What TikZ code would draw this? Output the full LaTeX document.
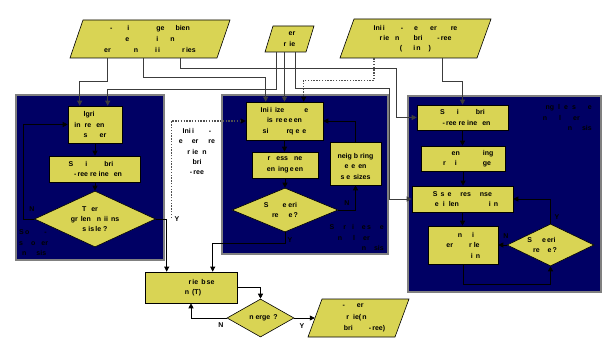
\documentclass[tikz,border=0pt]{standalone}
\usepackage{fontspec}
\setmainfont{Liberation Sans}
\usetikzlibrary{shapes.geometric,arrows.meta,calc}
\definecolor{navy}{RGB}{0,0,100}
\definecolor{ylw}{RGB}{217,212,84}
\definecolor{pgray}{RGB}{128,128,128}
\definecolor{cgray}{RGB}{60,60,60}
\definecolor{dgray}{RGB}{80,80,80}
\newcommand{\gapx}[1]{\hbox to #1pt{}}
\begin{document}
\begin{tikzpicture}[x=1pt,y=-1pt,
  every node/.style={font=\fontsize{7}{10.5}\selectfont\bfseries, inner sep=0pt},
  panel/.style={draw=pgray, line width=1.2pt, fill=navy},
  box/.style={draw=black, line width=0.6pt, fill=ylw, align=center},
  dia/.style={diamond, draw=black, line width=0.6pt, fill=ylw, align=center},
  para/.style={draw=black, line width=0.6pt, fill=ylw},
  conn/.style={draw=black, line width=0.7pt, -{Triangle[length=5pt,width=5pt]}},
  tconn/.style={draw=cgray, line width=0.9pt, -{Triangle[length=5pt,width=5pt]}},
  dconn/.style={draw=dgray, line width=1.1pt, dash pattern=on 1.4pt off 1.4pt, -{Triangle[length=5pt,width=5pt,color=black]}},
]
\useasboundingbox (0,0) rectangle (605,339);
% panels
\draw[panel] (16,95) rectangle (164,260);
\draw[panel] (222,95) rectangle (388,254);
\draw[panel] (408,96) rectangle (601,292);
% parallelograms
\draw[para] (83,20) -- (230,20) -- (217,58) -- (70,58) -- cycle;
\draw[para] (273,26) -- (314,26) -- (306,52) -- (265,52) -- cycle;
\draw[para] (354,19) -- (491,19) -- (477,58) -- (340,58) -- cycle;
\draw[para] (322,299) -- (409,299) -- (395,337) -- (308,337) -- cycle;
\node[align=center, minimum width=140pt, minimum height=38pt, font=\fontsize{7}{11}\selectfont\bfseries] (p1) at (150,39)
  {-\gapx{15}i\gapx{27}ge\gapx{11}bien\\e\gapx{27}i\gapx{12}n\\er\gapx{23}n\gapx{17}i\,i\gapx{22}r\,ies};
\node[align=right, minimum height=26pt, font=\fontsize{7}{11}\selectfont\bfseries] (p2) at (289.5,39) {er\\r\gapx{3}ie};
\node[align=center, minimum width=120pt, minimum height=39pt, font=\fontsize{7}{10}\selectfont\bfseries] (p3) at (415.5,38.5)
  {Ini\,i\gapx{16}-\gapx{11}e\gapx{12}er\gapx{14}re\\r\,ie\gapx{6}n\gapx{14}bri\gapx{15}-\,ree\\(\gapx{11}i\,n\gapx{8})};
\node[align=center, minimum width=87pt, minimum height=38pt, font=\fontsize{7}{11.5}\selectfont\bfseries] (p4) at (358.5,318)
  {-\gapx{12}er\gapx{11}\\r\gapx{4}ie(\,n\gapx{4}\\\gapx{12}bri\gapx{16}-\,ree)};
% panel A
\node[box, minimum width=54pt, minimum height=37pt] (a1) at (95,124.5)
  {lgri\gapx{12}\\in\gapx{4}re\gapx{5}en\gapx{11}\\s\gapx{12}er};
\node[box, minimum width=91pt, minimum height=26pt] (a2) at (94.5,169)
  {S\gapx{12}i\gapx{17}bri\gapx{7}\\\gapx{7}-\,ree\gapx{2}re\gapx{2}ine\gapx{5}en};
\node[dia, shape aspect=2.16, minimum width=121pt, minimum height=56pt, font=\fontsize{7}{10}\selectfont\bfseries] (ad) at (95,219)
  {T\gapx{5}er\gapx{10}\\gr\gapx{3}len\gapx{6}n\gapx{3}ii\gapx{3}ns\\s\gapx{2}is\,le\gapx{2}?};
\node[align=left, anchor=west] (capa) at (19,243) {S\,o\gapx{15}-\\s\gapx{8}o\gapx{6}er\\\gapx{3}n\gapx{10}sis};
\node (nA) at (32,209) {N};
% panel B
\node[box, minimum width=77pt, minimum height=38pt] (b1) at (284.5,121)
  {Ini\,i\gapx{3}ize\gapx{20}e\\is\gapx{3}re\,e\,e\,en\\si\gapx{18}rq\gapx{2}e\gapx{3}e};
\node[box, minimum width=66pt, minimum height=26pt] (b2) at (285,165)
  {r\gapx{6}ess\gapx{6}ne\\en\gapx{3}ing\,e\,en};
\node[box, minimum width=51pt, minimum height=43pt] (b3) at (355.5,163.5)
  {\mbox{}\\neig\gapx{2}b\gapx{2}ring\\e\gapx{3}e\gapx{3}en\\s\gapx{2}e\gapx{3}sizes};
\node[dia, shape aspect=2.4, minimum width=106pt, minimum height=44pt] (bd) at (285,210)
  {S\gapx{14}e\gapx{2}eri\gapx{9}\\re\gapx{10}e\,?};
\node[align=right, anchor=east] (capb) at (384,237.5) {S\gapx{9}r\gapx{6}i\gapx{8}e\,s\gapx{9}e\\n\gapx{11}l\gapx{8}er\gapx{14}\\n\gapx{8}sis};
\node (nB) at (347,203) {N};
\node (yB) at (290,240) {Y};
% panel C
\node[box, minimum width=91pt, minimum height=25pt] (c1) at (462.5,117.5)
  {S\gapx{12}i\gapx{17}bri\\\gapx{8}-\,ree\gapx{2}re\gapx{2}ine\gapx{5}en};
\node[box, minimum width=84pt, minimum height=25pt] (c2) at (463,158.5)
  {\gapx{19}en\gapx{23}ing\\\gapx{8}r\gapx{9}i\gapx{26}ge};
\node[box, minimum width=101pt, minimum height=26pt] (c3) at (462.5,199)
  {S\gapx{3}s\gapx{3}e\gapx{9}res\gapx{9}nse\\\gapx{8}e\gapx{4}i\gapx{4}len\gapx{30}i\gapx{3}n};
\node[box, minimum width=70pt, minimum height=38pt] (c4) at (463,245)
  {\gapx{6}n\gapx{10}i\\er\gapx{16}r\gapx{2}le\\\gapx{25}i\gapx{3}n};
\node[dia, shape aspect=2.07, minimum width=87pt, minimum height=42pt] (cd) at (550.5,245)
  {S\gapx{10}e\,eri\gapx{18}\\re\gapx{8}e\,?\gapx{11}};
\node[align=right, anchor=east] (capc) at (592,117.5) {ng\gapx{4}l\gapx{4}e\gapx{4}s\gapx{12}e\\n\gapx{12}l\gapx{12}er\gapx{12}\\n\gapx{10}sis};
\node (nC) at (506,236) {N};
\node (yC) at (557,217) {Y};
% outside labels
\node (yA) at (177,219) {Y};
\node[align=center, font=\fontsize{7}{10.3}\selectfont\bfseries] (pl) at (197,151.5)
  {Ini\,i\gapx{15}-\\e\gapx{9}er\gapx{10}re\\r\,\,ie\gapx{4}n\\bri\\-\,ree};
% bottom
\node[box, minimum width=92pt, minimum height=31pt] (tb) at (191,287.5)
  {\gapx{21}r\,ie\gapx{3}b\,se\\\gapx{4}n\gapx{3}(T)};
\node[dia, shape aspect=1.76, minimum width=67pt, minimum height=38pt] (td) at (260.5,318)
  {\gapx{6}n\gapx{2}erge\gapx{3}?};
\node (nT) at (221,325) {N};
\node (yT) at (302,326) {Y};
\coordinate (yj) at ($(ad.east)+(15.5,-1)$);
% connectors A
\draw[conn] (a1.south) -- (a1.south |- a2.north);
\draw[conn] (ad.north |- a2.south) -- (ad.north);
\draw[conn] (ad.west) -- ++(-11,0) |- (a1.west);
\draw[conn] (ad.east) -| ($(tb.north west)+(22,0)$);
% connectors B
\draw[conn] (b1.south) -- (b1.south |- b2.north);
\draw[conn] (b2.south) -- (b2.south |- bd.north);
\draw[conn] (bd.east) -| (b3.south);
\draw[conn] (b3.north) |- (b1.east);
\draw[conn] (bd.south) -- ++(0,11) -| ($(tb.north west)+(68,0)$);
% connectors C
\draw[conn] (c1.south) -- (c1.south |- c2.north);
\draw[conn] (c2.south) -- (c2.south |- c3.north);
\draw[conn] (c3.south) -- (c3.south |- c4.north);
\draw[conn] (c4.south) -- ++(0,20) -| (cd.south);
\draw[conn] (cd.west) -- (c4.east);
\draw[conn] (cd.north) |- (c3.east);
% bottom
\draw[conn] (tb.east) -| (td.north);
\draw[conn] (td.west) -| (tb.south);
\draw[conn] (td.east) -- (p4.west);
% dotted parameter line
\draw[dconn] (yj) |- (b1.west);
% top connectors
\draw[tconn] ($(p1.south)+(-43,0)$) -- ++(0,23) -| ($(a1.north west)+(12,0)$);
\draw[tconn] ($(p2.south)+(-13.5,0)$) -- ++(0,37) -| ($(a1.north west)+(40,0)$);
\draw[tconn] ($(p1.south)+(-7,0)$) -- ++(0,19) -| ($(b1.north west)+(20,0)$);
\draw[tconn] (b1.north |- p2.south) -- (b1.north);
\draw[dconn] ($(p3.south)+(-41.5,0)$) -- ++(0,22) -| ($(b1.north west)+(58,0)$);
\draw[tconn] ($(p1.south)+(30,0)$) -- ++(0,10) -| ($(c1.west)+(-20,0)$) -- (c1.west);
\draw[tconn] ($(p2.south)+(5.5,0)$) -- ++(0,36) -| ($(c3.west)+(-22,0)$) -- (c3.west);
\draw[tconn] ($(p3.south)+(26.5,0)$) -- ++(0,23) -| (c1.north);
\end{tikzpicture}
\end{document}
